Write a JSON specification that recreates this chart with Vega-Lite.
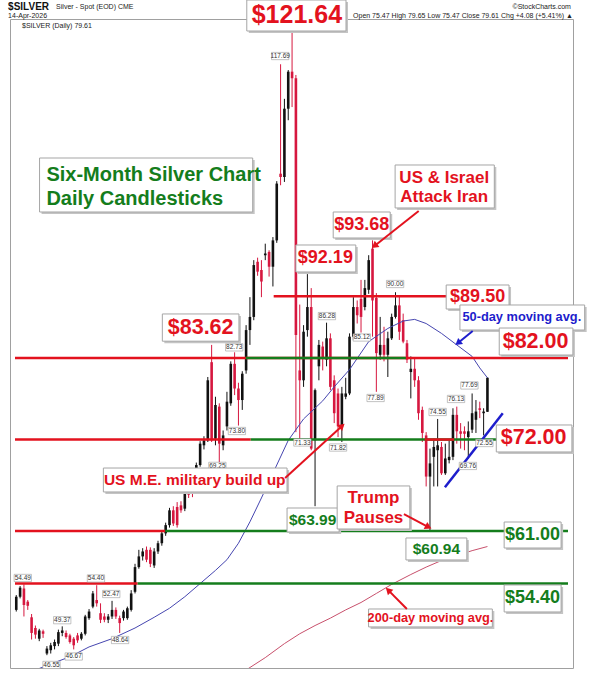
{
  "$schema": "https://vega.github.io/schema/vega-lite/v6.json",
  "width": 563,
  "height": 649,
  "autosize": {"type": "none"},
  "padding": {"left": 10, "top": 19, "right": 24, "bottom": 12},
  "background": "white",
  "config": {"view": {"stroke": "#a0a0a0", "strokeWidth": 1}, "font": "Liberation Sans"},
  "datasets": {
    "bars": [
      {"t": -3, "o": 51.4, "h": 53.2, "l": 51.2, "c": 53.0},
      {"t": -2, "o": 53.0, "h": 54.3, "l": 52.8, "c": 54.1},
      {"t": -1, "o": 54.0, "h": 54.5, "l": 50.6, "c": 52.0},
      {"t": 0, "o": 52.4, "h": 52.6, "l": 51.4, "c": 51.9},
      {"t": 1, "o": 50.5, "h": 50.9, "l": 47.8, "c": 48.6},
      {"t": 2, "o": 49.2, "h": 49.5, "l": 47.9, "c": 48.4},
      {"t": 3, "o": 47.9, "h": 49.1, "l": 47.6, "c": 48.9},
      {"t": 4, "o": 48.8, "h": 49.0, "l": 48.0, "c": 48.5},
      {"t": 5, "o": 46.1, "h": 47.0, "l": 45.9, "c": 46.7},
      {"t": 6, "o": 46.5, "h": 47.4, "l": 46.1, "c": 47.1},
      {"t": 7, "o": 47.0, "h": 47.8, "l": 46.6, "c": 47.5},
      {"t": 8, "o": 47.3, "h": 49.0, "l": 47.0, "c": 48.7},
      {"t": 9, "o": 48.6, "h": 49.4, "l": 48.2, "c": 48.9},
      {"t": 10, "o": 48.6, "h": 48.9, "l": 47.9, "c": 48.1},
      {"t": 11, "o": 48.3, "h": 48.5, "l": 47.3, "c": 47.5},
      {"t": 12, "o": 47.9, "h": 48.1, "l": 46.6, "c": 47.1},
      {"t": 13, "o": 48.3, "h": 48.6, "l": 47.4, "c": 47.7},
      {"t": 14, "o": 47.9, "h": 48.7, "l": 47.7, "c": 48.5},
      {"t": 15, "o": 48.5, "h": 50.8, "l": 48.3, "c": 50.6},
      {"t": 16, "o": 50.4, "h": 51.5, "l": 50.2, "c": 51.2},
      {"t": 17, "o": 51.8, "h": 53.7, "l": 51.6, "c": 53.4},
      {"t": 18, "o": 52.6, "h": 54.4, "l": 51.8, "c": 52.2},
      {"t": 19, "o": 51.0, "h": 52.2, "l": 49.8, "c": 50.2},
      {"t": 20, "o": 50.6, "h": 51.0, "l": 49.9, "c": 50.2},
      {"t": 21, "o": 50.2, "h": 50.9, "l": 49.8, "c": 50.6},
      {"t": 22, "o": 50.6, "h": 52.5, "l": 50.3, "c": 51.4},
      {"t": 23, "o": 51.4, "h": 51.7, "l": 50.3, "c": 50.6},
      {"t": 24, "o": 50.4, "h": 50.7, "l": 48.6, "c": 49.8},
      {"t": 25, "o": 50.4, "h": 51.4, "l": 50.1, "c": 51.2},
      {"t": 26, "o": 50.4, "h": 51.8, "l": 50.2, "c": 51.6},
      {"t": 27, "o": 51.4, "h": 53.8, "l": 51.2, "c": 53.4},
      {"t": 28, "o": 53.6, "h": 57.0, "l": 53.4, "c": 56.6},
      {"t": 29, "o": 56.6, "h": 58.7, "l": 56.4, "c": 57.9},
      {"t": 30, "o": 57.9, "h": 58.9, "l": 57.4, "c": 58.5},
      {"t": 31, "o": 58.7, "h": 59.1, "l": 57.2, "c": 57.5},
      {"t": 32, "o": 58.7, "h": 59.0, "l": 56.6, "c": 57.0},
      {"t": 33, "o": 56.8, "h": 58.9, "l": 56.5, "c": 58.5},
      {"t": 34, "o": 58.5, "h": 59.8, "l": 58.2, "c": 59.5},
      {"t": 35, "o": 59.5, "h": 61.0, "l": 59.2, "c": 60.7},
      {"t": 36, "o": 60.7, "h": 62.0, "l": 60.4, "c": 61.7},
      {"t": 37, "o": 61.7, "h": 63.8, "l": 61.4, "c": 63.5},
      {"t": 38, "o": 63.5, "h": 64.0, "l": 61.6, "c": 61.9},
      {"t": 39, "o": 63.9, "h": 64.5, "l": 61.4, "c": 61.7},
      {"t": 40, "o": 64.1, "h": 64.6, "l": 63.2, "c": 63.5},
      {"t": 41, "o": 63.7, "h": 65.9, "l": 63.4, "c": 65.6},
      {"t": 42, "o": 65.9, "h": 66.8, "l": 65.0, "c": 65.4},
      {"t": 43, "o": 66.2, "h": 67.0, "l": 65.1, "c": 65.6},
      {"t": 44, "o": 66.0, "h": 69.3, "l": 65.8, "c": 69.0},
      {"t": 45, "o": 69.0, "h": 71.9, "l": 68.8, "c": 71.6},
      {"t": 46, "o": 71.4, "h": 72.5, "l": 70.9, "c": 72.0},
      {"t": 47, "o": 72.0, "h": 79.7, "l": 71.8, "c": 79.3},
      {"t": 48, "o": 81.5, "h": 83.6, "l": 71.8, "c": 72.0},
      {"t": 49, "o": 72.2, "h": 77.3, "l": 71.4, "c": 76.3},
      {"t": 50, "o": 76.1, "h": 76.5, "l": 69.3, "c": 71.6},
      {"t": 51, "o": 71.4, "h": 73.2, "l": 70.8, "c": 72.6},
      {"t": 52, "o": 73.7, "h": 77.9, "l": 73.2, "c": 76.7},
      {"t": 53, "o": 76.5, "h": 81.6, "l": 76.2, "c": 81.3},
      {"t": 54, "o": 81.3, "h": 82.7, "l": 77.5, "c": 78.3},
      {"t": 55, "o": 78.3, "h": 79.0, "l": 73.8, "c": 76.9},
      {"t": 56, "o": 76.9, "h": 80.4, "l": 75.7, "c": 80.1},
      {"t": 57, "o": 80.5, "h": 86.0, "l": 80.1, "c": 85.4},
      {"t": 58, "o": 85.4, "h": 89.4, "l": 83.6, "c": 87.0},
      {"t": 59, "o": 87.0, "h": 93.9, "l": 86.6, "c": 93.3},
      {"t": 60, "o": 93.7, "h": 94.2, "l": 92.0, "c": 92.5},
      {"t": 61, "o": 92.7, "h": 93.9, "l": 89.4, "c": 91.3},
      {"t": 62, "o": 94.5, "h": 95.9, "l": 93.9, "c": 94.7},
      {"t": 63, "o": 94.9, "h": 95.1, "l": 91.9, "c": 93.1},
      {"t": 64, "o": 93.1, "h": 96.7, "l": 90.7, "c": 96.3},
      {"t": 65, "o": 96.3, "h": 103.5, "l": 96.0, "c": 103.2},
      {"t": 66, "o": 104.4, "h": 117.7, "l": 103.0, "c": 104.0},
      {"t": 67, "o": 104.0, "h": 113.5, "l": 103.4, "c": 112.3},
      {"t": 68, "o": 112.3, "h": 117.0, "l": 110.9, "c": 116.8},
      {"t": 69, "o": 116.8, "h": 121.6, "l": 112.5, "c": 116.0},
      {"t": 70, "o": 116.0, "h": 116.4, "l": 73.0, "c": 84.8},
      {"t": 71, "o": 80.5, "h": 88.5, "l": 71.3, "c": 79.3},
      {"t": 72, "o": 79.3, "h": 86.0, "l": 78.5, "c": 85.2},
      {"t": 73, "o": 85.4, "h": 92.2, "l": 84.6, "c": 88.2},
      {"t": 74, "o": 88.2, "h": 90.5, "l": 70.8, "c": 71.0},
      {"t": 75, "o": 72.0, "h": 78.3, "l": 64.0, "c": 78.1},
      {"t": 76, "o": 81.0, "h": 84.2, "l": 79.3, "c": 83.6},
      {"t": 77, "o": 83.4, "h": 84.0, "l": 80.5, "c": 82.0},
      {"t": 78, "o": 81.8, "h": 86.3, "l": 81.0, "c": 84.4},
      {"t": 79, "o": 84.4, "h": 85.0, "l": 78.1, "c": 78.5},
      {"t": 80, "o": 79.3, "h": 79.9, "l": 74.1, "c": 75.3},
      {"t": 81, "o": 77.7, "h": 78.3, "l": 72.4, "c": 73.7},
      {"t": 82, "o": 73.7, "h": 78.5, "l": 71.8, "c": 77.7},
      {"t": 83, "o": 77.3, "h": 79.6, "l": 77.0, "c": 77.7},
      {"t": 84, "o": 77.7, "h": 85.0, "l": 77.5, "c": 84.6},
      {"t": 85, "o": 84.6, "h": 89.4, "l": 84.2, "c": 88.2},
      {"t": 86, "o": 88.2, "h": 89.0, "l": 86.2, "c": 87.2},
      {"t": 87, "o": 89.2, "h": 91.5, "l": 85.1, "c": 87.0},
      {"t": 88, "o": 88.2, "h": 91.5, "l": 87.8, "c": 90.5},
      {"t": 89, "o": 90.3, "h": 94.5, "l": 89.8, "c": 93.9},
      {"t": 90, "o": 95.3, "h": 96.3, "l": 84.6, "c": 89.0},
      {"t": 91, "o": 89.3, "h": 89.9, "l": 77.9, "c": 82.6},
      {"t": 92, "o": 82.4, "h": 87.0, "l": 81.8, "c": 83.6},
      {"t": 93, "o": 83.6, "h": 85.8, "l": 81.6, "c": 82.4},
      {"t": 94, "o": 82.4, "h": 85.2, "l": 79.7, "c": 84.4},
      {"t": 95, "o": 84.4, "h": 87.4, "l": 84.2, "c": 87.0},
      {"t": 96, "o": 87.0, "h": 90.0, "l": 86.8, "c": 88.4},
      {"t": 97, "o": 88.4, "h": 89.6, "l": 84.2, "c": 85.2},
      {"t": 98, "o": 86.6, "h": 87.4, "l": 83.8, "c": 84.0},
      {"t": 99, "o": 83.8, "h": 84.2, "l": 81.4, "c": 81.8},
      {"t": 100, "o": 80.3, "h": 82.2, "l": 77.1, "c": 80.7},
      {"t": 101, "o": 80.7, "h": 81.9, "l": 78.5, "c": 79.3},
      {"t": 102, "o": 79.3, "h": 79.8, "l": 74.5, "c": 75.3},
      {"t": 103, "o": 75.7, "h": 76.1, "l": 71.8, "c": 72.9},
      {"t": 104, "o": 72.6, "h": 73.0, "l": 66.4, "c": 67.6},
      {"t": 105, "o": 67.6, "h": 71.0, "l": 60.9, "c": 69.2},
      {"t": 106, "o": 70.0, "h": 72.2, "l": 66.4, "c": 71.2},
      {"t": 107, "o": 70.8, "h": 74.6, "l": 66.4, "c": 71.4},
      {"t": 108, "o": 71.2, "h": 71.8, "l": 67.8, "c": 68.0},
      {"t": 109, "o": 68.0, "h": 71.6, "l": 67.8, "c": 69.8},
      {"t": 110, "o": 69.6, "h": 72.0, "l": 69.2, "c": 70.0},
      {"t": 111, "o": 70.0, "h": 75.9, "l": 69.6, "c": 75.1},
      {"t": 112, "o": 75.1, "h": 76.1, "l": 71.6, "c": 73.1},
      {"t": 113, "o": 73.1, "h": 74.1, "l": 71.0, "c": 72.8},
      {"t": 114, "o": 73.1, "h": 73.7, "l": 70.8, "c": 72.8},
      {"t": 115, "o": 72.4, "h": 74.3, "l": 69.8, "c": 73.1},
      {"t": 116, "o": 73.3, "h": 77.7, "l": 72.9, "c": 75.3},
      {"t": 117, "o": 74.5, "h": 76.9, "l": 72.9, "c": 75.5},
      {"t": 118, "o": 75.9, "h": 76.7, "l": 74.7, "c": 75.7},
      {"t": 119, "o": 75.3, "h": 75.9, "l": 72.6, "c": 75.5},
      {"t": 120, "o": 75.47, "h": 79.65, "l": 75.47, "c": 79.61}
    ],
    "ma50": [
      {"t": 2, "p": 44.1}, {"t": 7, "p": 45.0}, {"t": 11, "p": 45.7}, {"t": 16, "p": 46.9},
      {"t": 22, "p": 47.9}, {"t": 28, "p": 49.2}, {"t": 33, "p": 50.5}, {"t": 37, "p": 51.6},
      {"t": 41, "p": 53.0}, {"t": 45, "p": 54.6}, {"t": 49, "p": 56.2}, {"t": 52, "p": 57.5},
      {"t": 55, "p": 59.5}, {"t": 58, "p": 62.1}, {"t": 61, "p": 65.0}, {"t": 64, "p": 68.0},
      {"t": 68, "p": 72.0}, {"t": 72, "p": 74.6}, {"t": 77, "p": 76.8}, {"t": 80, "p": 78.5},
      {"t": 84, "p": 80.6}, {"t": 89, "p": 84.0}, {"t": 94, "p": 85.6}, {"t": 98, "p": 86.5},
      {"t": 101, "p": 86.7}, {"t": 104, "p": 86.2}, {"t": 108, "p": 85.0}, {"t": 112, "p": 83.6},
      {"t": 116, "p": 82.2}, {"t": 118, "p": 80.8}, {"t": 120, "p": 79.6}
    ],
    "ma200": [
      {"t": 57, "p": 44.1}, {"t": 62, "p": 45.6}, {"t": 67, "p": 47.3}, {"t": 71, "p": 48.5},
      {"t": 75, "p": 49.5}, {"t": 79, "p": 50.4}, {"t": 83, "p": 51.4}, {"t": 87, "p": 52.3},
      {"t": 91, "p": 53.4}, {"t": 95, "p": 54.5}, {"t": 100, "p": 55.7}, {"t": 104, "p": 56.6},
      {"t": 108, "p": 57.4}, {"t": 112, "p": 58.0}, {"t": 116, "p": 58.6}, {"t": 120, "p": 59.1}
    ],
    "levels": [
      {"t": -3.33, "t2": 141.03, "p": 82, "tone": "red"},
      {"t": 56.9, "t2": 98.7, "p": 82, "tone": "green"},
      {"t": 64.2, "t2": 115, "p": 89.5, "tone": "red"},
      {"t": -3.33, "t2": 58.2, "p": 72.1, "tone": "red"},
      {"t": 58.2, "t2": 141.03, "p": 72.1, "tone": "green"},
      {"t": 103.6, "t2": 111.3, "p": 72.1, "tone": "red"},
      {"t": -3.33, "t2": 35.9, "p": 61, "tone": "red"},
      {"t": 35.9, "t2": 141.03, "p": 61, "tone": "green"},
      {"t": -3.33, "t2": 28.7, "p": 54.6, "tone": "red"},
      {"t": 28.7, "t2": 141.03, "p": 54.6, "tone": "green"}
    ],
    "trend": [{"t": 108.9, "p": 66.3, "t2": 124.0, "p2": 75.3}],
    "tags": [
      {"t": 65.9, "p": 118.7, "label": "117.69"},
      {"t": 53.9, "p": 83.3, "label": "82.73"},
      {"t": 54.6, "p": 73.14, "label": "73.80"},
      {"t": 49.5, "p": 68.9, "label": "69.25"},
      {"t": 78.1, "p": 87.1, "label": "86.28"},
      {"t": 71.7, "p": 71.74, "label": "71.33"},
      {"t": 81.0, "p": 71.13, "label": "71.82"},
      {"t": 87.2, "p": 84.5, "label": "85.12"},
      {"t": 95.9, "p": 91.0, "label": "90.00"},
      {"t": 90.8, "p": 77.15, "label": "77.89"},
      {"t": 107.0, "p": 75.45, "label": "74.55"},
      {"t": 111.8, "p": 77.03, "label": "76.13"},
      {"t": 115.3, "p": 78.67, "label": "77.69"},
      {"t": 119.2, "p": 71.68, "label": "72.55"},
      {"t": 114.9, "p": 68.89, "label": "69.76"},
      {"t": -1.3, "p": 55.28, "label": "54.49"},
      {"t": 17.8, "p": 55.22, "label": "54.40"},
      {"t": 21.8, "p": 53.33, "label": "52.47"},
      {"t": 9.0, "p": 50.15, "label": "49.37"},
      {"t": 12.0, "p": 45.74, "label": "46.67"},
      {"t": 6.2, "p": 44.71, "label": "46.55"},
      {"t": 24.1, "p": 47.74, "label": "48.64"}
    ],
    "boxes": [
      {"t": 57.18, "t2": 83.08, "p": 125.51, "p2": 121.74},
      {"t": 3.08, "t2": 58.72, "p": 106.31, "p2": 99.75},
      {"t": 95.9, "t2": 121.79, "p": 105.46, "p2": 100.24},
      {"t": 79.74, "t2": 94.62, "p": 99.75, "p2": 96.59},
      {"t": 70.0, "t2": 85.64, "p": 95.74, "p2": 92.46},
      {"t": 109.23, "t2": 125.64, "p": 90.88, "p2": 87.96},
      {"t": 112.82, "t2": 145.38, "p": 88.45, "p2": 85.41},
      {"t": 35.13, "t2": 55.13, "p": 87.36, "p2": 84.05},
      {"t": 123.08, "t2": 142.31, "p": 85.65, "p2": 82.37},
      {"t": 122.31, "t2": 142.05, "p": 73.87, "p2": 70.59},
      {"t": 19.74, "t2": 67.69, "p": 68.64, "p2": 65.73},
      {"t": 67.69, "t2": 81.28, "p": 63.78, "p2": 60.87},
      {"t": 80.77, "t2": 99.74, "p": 66.46, "p2": 61.23},
      {"t": 98.72, "t2": 114.62, "p": 60.14, "p2": 57.47},
      {"t": 124.36, "t2": 139.23, "p": 62.08, "p2": 58.92},
      {"t": 124.36, "t2": 139.23, "p": 54.43, "p2": 51.15},
      {"t": 88.97, "t2": 121.28, "p": 51.51, "p2": 49.33}
    ],
    "notes": [
      {"t": 70.26, "p": 123.69, "label": "$121.64", "tone": "red", "kind": "huge"},
      {"t": 87.18, "p": 98.17, "label": "$93.68", "tone": "red", "kind": "mid"},
      {"t": 77.69, "p": 94.1, "label": "$92.19", "tone": "red", "kind": "mid"},
      {"t": 117.44, "p": 89.42, "label": "$89.50", "tone": "red", "kind": "mid"},
      {"t": 128.97, "p": 86.93, "label": "50-day moving avg.", "tone": "blue", "kind": "ma"},
      {"t": 45.13, "p": 85.7, "label": "$83.62", "tone": "red", "kind": "price"},
      {"t": 132.56, "p": 84.01, "label": "$82.00", "tone": "red", "kind": "price"},
      {"t": 132.05, "p": 72.23, "label": "$72.00", "tone": "red", "kind": "price"},
      {"t": 108.72, "p": 103.88, "label": "US & Israel", "tone": "red", "kind": "event"},
      {"t": 108.72, "p": 101.57, "label": "Attack Iran", "tone": "red", "kind": "event"},
      {"t": 43.59, "p": 67.19, "label": "US M.E. military build up", "tone": "red", "kind": "small"},
      {"t": 74.36, "p": 62.33, "label": "$63.99", "tone": "green", "kind": "small"},
      {"t": 90.26, "p": 65.0, "label": "Trump", "tone": "red", "kind": "event"},
      {"t": 90.26, "p": 62.57, "label": "Pauses", "tone": "red", "kind": "event"},
      {"t": 106.67, "p": 58.8, "label": "$60.94", "tone": "green", "kind": "small"},
      {"t": 131.79, "p": 60.5, "label": "$61.00", "tone": "green", "kind": "mid"},
      {"t": 131.79, "p": 52.79, "label": "$54.40", "tone": "green", "kind": "mid"},
      {"t": 105.13, "p": 50.42, "label": "200-day moving avg.", "tone": "red", "kind": "ma"}
    ],
    "heading": [
      {"t": 4.87, "p": 104.25, "label": "Six-Month Silver Chart"},
      {"t": 4.87, "p": 101.33, "label": "Daily Candlesticks"}
    ],
    "arrows": [
      {"t": 102.05, "p": 99.87, "t2": 90.5, "p2": 95.62, "tone": "red"},
      {"t": 67.18, "p": 67.43, "t2": 82.05, "p2": 73.75, "tone": "red"},
      {"t": 98.2, "p": 63.05, "t2": 104.6, "p2": 61.47, "tone": "red"},
      {"t": 116.15, "p": 85.29, "t2": 112.31, "p2": 83.83, "tone": "blue"},
      {"t": 98.97, "p": 51.51, "t2": 94.1, "p2": 53.8, "tone": "red"}
    ],
    "headL": [
      {"t": 7.4, "p": 124.62, "label": "Silver - Spot (EOD) CME"},
      {"t": -5.13, "p": 123.56, "label": "14-Apr-2026"},
      {"t": -1.5, "p": 122.35, "label": "$SILVER (Daily) 79.61"}
    ],
    "headSym": [{"t": -5.13, "p": 124.66, "label": "$SILVER"}],
    "headR": [
      {"t": 141.8, "p": 124.66, "label": "©StockCharts.com"},
      {"t": 142.3, "p": 123.56, "label": "Open 75.47  High 79.65  Low 75.47  Close 79.61  Chg +4.08 (+5.41%) ▲"}
    ]
  },
  "layer": [
    {
      "data": {"name": "bars"},
      "mark": {"type": "rule", "strokeWidth": 1},
      "encoding": {
        "x": {
          "field": "t", "type": "quantitative", "title": null,
          "scale": {"domain": [-3.33, 141.03], "nice": false, "zero": false},
          "axis": {
            "values": [0, 5, 10, 15, 20, 25, 29, 34, 39, 44, 48, 51, 57, 62, 66, 71, 76, 81, 85, 90, 95, 100, 105, 110, 112, 114, 119, 124, 129, 133, 139],
            "labelExpr": "['20','27','Nov','10','17','24','Dec','8','15','22','29','2026','12','20','26','Feb','9','17','23','Mar','9','16','23','30','Apr','6','13','20','27','May','11'][indexof([0,5,10,15,20,25,29,34,39,44,48,51,57,62,66,71,76,81,85,90,95,100,105,110,112,114,119,124,129,133,139], datum.value)]",
            "labelFontWeight": {"condition": {"test": "indexof([10,29,51,71,90,112,133], datum.value) >= 0", "value": "bold"}, "value": "normal"},
            "labelFontSize": 7, "labelColor": "#222", "labelPadding": 2,
            "ticks": false, "domain": false, "grid": true, "gridColor": "#e3e3e3",
            "labelFlush": false, "labelOverlap": false, "labelBound": false
          }
        },
        "y": {
          "field": "l", "type": "quantitative", "title": null,
          "scale": {"domain": [44.34, 123.2], "nice": false, "zero": false},
          "axis": {
            "orient": "right",
            "values": [46, 48, 50, 52, 54, 56, 58, 60, 62, 64, 66, 68, 70, 72, 74, 76, 78, 80, 82, 84, 86, 88, 90, 92, 94, 96, 98, 100, 102, 104, 106, 108, 110, 112, 114, 116, 118, 120, 122],
            "labelFontSize": 7, "labelColor": "#222", "labelPadding": 4,
            "ticks": false, "domain": false, "grid": true, "gridColor": "#e3e3e3",
            "labelFlush": false, "labelOverlap": false, "labelBound": false
          }
        },
        "y2": {"field": "h"},
        "color": {"condition": {"test": "datum.c >= datum.o", "value": "#111111"}, "value": "#d6173f"}
      }
    },
    {
      "data": {"name": "bars"},
      "mark": {"type": "bar", "width": 2.6},
      "encoding": {
        "x": {"field": "t", "type": "quantitative", "scale": {"domain": [-3.33, 141.03], "nice": false, "zero": false}, "axis": null},
        "y": {"field": "o", "type": "quantitative", "scale": {"domain": [44.34, 123.2], "nice": false, "zero": false}, "axis": null},
        "y2": {"field": "c"},
        "color": {"condition": {"test": "datum.c >= datum.o", "value": "#111111"}, "value": "#d6173f"}
      }
    },
    {
      "data": {"name": "ma200"},
      "mark": {"type": "line", "clip": true, "strokeWidth": 1, "color": "#c8506c"},
      "encoding": {
        "x": {"field": "t", "type": "quantitative", "scale": {"domain": [-3.33, 141.03], "nice": false, "zero": false}, "axis": null},
        "y": {"field": "p", "type": "quantitative", "scale": {"domain": [44.34, 123.2], "nice": false, "zero": false}, "axis": null}
      }
    },
    {
      "data": {"name": "ma50"},
      "mark": {"type": "line", "clip": true, "strokeWidth": 1, "color": "#4646b0"},
      "encoding": {
        "x": {"field": "t", "type": "quantitative", "scale": {"domain": [-3.33, 141.03], "nice": false, "zero": false}, "axis": null},
        "y": {"field": "p", "type": "quantitative", "scale": {"domain": [44.34, 123.2], "nice": false, "zero": false}, "axis": null}
      }
    },
    {
      "data": {"name": "levels"},
      "mark": {"type": "rule", "strokeWidth": 2.5},
      "encoding": {
        "x": {"field": "t", "type": "quantitative", "scale": {"domain": [-3.33, 141.03], "nice": false, "zero": false}, "axis": null},
        "x2": {"field": "t2"},
        "y": {"field": "p", "type": "quantitative", "scale": {"domain": [44.34, 123.2], "nice": false, "zero": false}, "axis": null},
        "color": {"field": "tone", "type": "nominal", "scale": {"domain": ["red", "green", "blue"], "range": ["#e3121e", "#147d1c", "#1d1dcc"]}, "legend": null}
      }
    },
    {
      "data": {"name": "trend"},
      "mark": {"type": "rule", "strokeWidth": 2.5, "color": "#1d1dcc"},
      "encoding": {
        "x": {"field": "t", "type": "quantitative", "scale": {"domain": [-3.33, 141.03], "nice": false, "zero": false}, "axis": null},
        "x2": {"field": "t2"},
        "y": {"field": "p", "type": "quantitative", "scale": {"domain": [44.34, 123.2], "nice": false, "zero": false}, "axis": null},
        "y2": {"field": "p2"}
      }
    },
    {
      "data": {"name": "tags"},
      "mark": {"type": "point", "shape": "M-1,-0.42H1V0.42H-1Z", "size": 300, "fill": "white", "stroke": "#9a9a9a", "strokeWidth": 0.6, "opacity": 1, "fillOpacity": 1},
      "encoding": {
        "x": {"field": "t", "type": "quantitative", "scale": {"domain": [-3.33, 141.03], "nice": false, "zero": false}, "axis": null},
        "y": {"field": "p", "type": "quantitative", "scale": {"domain": [44.34, 123.2], "nice": false, "zero": false}, "axis": null}
      }
    },
    {
      "data": {"name": "tags"},
      "mark": {"type": "text", "fontSize": 6.5, "color": "#333333", "baseline": "middle"},
      "encoding": {
        "x": {"field": "t", "type": "quantitative", "scale": {"domain": [-3.33, 141.03], "nice": false, "zero": false}, "axis": null},
        "y": {"field": "p", "type": "quantitative", "scale": {"domain": [44.34, 123.2], "nice": false, "zero": false}, "axis": null},
        "text": {"field": "label"}
      }
    },
    {
      "data": {"name": "boxes"},
      "mark": {"type": "rect", "fill": "#c4c4c4", "xOffset": 2, "x2Offset": 2, "yOffset": 2, "y2Offset": 2},
      "encoding": {
        "x": {"field": "t", "type": "quantitative", "scale": {"domain": [-3.33, 141.03], "nice": false, "zero": false}, "axis": null},
        "x2": {"field": "t2"},
        "y": {"field": "p", "type": "quantitative", "scale": {"domain": [44.34, 123.2], "nice": false, "zero": false}, "axis": null},
        "y2": {"field": "p2"}
      }
    },
    {
      "data": {"name": "boxes"},
      "mark": {"type": "rect", "fill": "white", "stroke": "#a5a5a5", "strokeWidth": 1},
      "encoding": {
        "x": {"field": "t", "type": "quantitative", "scale": {"domain": [-3.33, 141.03], "nice": false, "zero": false}, "axis": null},
        "x2": {"field": "t2"},
        "y": {"field": "p", "type": "quantitative", "scale": {"domain": [44.34, 123.2], "nice": false, "zero": false}, "axis": null},
        "y2": {"field": "p2"}
      }
    },
    {
      "data": {"name": "notes"},
      "mark": {"type": "text", "fontWeight": "bold", "baseline": "middle", "align": "center"},
      "encoding": {
        "x": {"field": "t", "type": "quantitative", "scale": {"domain": [-3.33, 141.03], "nice": false, "zero": false}, "axis": null},
        "y": {"field": "p", "type": "quantitative", "scale": {"domain": [44.34, 123.2], "nice": false, "zero": false}, "axis": null},
        "text": {"field": "label"},
        "color": {"field": "tone", "type": "nominal", "scale": {"domain": ["red", "green", "blue"], "range": ["#e3121e", "#147d1c", "#1d1dcc"]}, "legend": null},
        "size": {"field": "kind", "type": "nominal", "scale": {"type": "ordinal", "domain": ["huge", "price", "mid", "event", "small", "ma"], "range": [25, 21.5, 18, 17, 15.5, 12.8]}, "legend": null}
      }
    },
    {
      "data": {"name": "heading"},
      "mark": {"type": "text", "fontWeight": "bold", "fontSize": 20, "color": "#147d1c", "baseline": "middle", "align": "left"},
      "encoding": {
        "x": {"field": "t", "type": "quantitative", "scale": {"domain": [-3.33, 141.03], "nice": false, "zero": false}, "axis": null},
        "y": {"field": "p", "type": "quantitative", "scale": {"domain": [44.34, 123.2], "nice": false, "zero": false}, "axis": null},
        "text": {"field": "label"}
      }
    },
    {
      "data": {"name": "arrows"},
      "mark": {"type": "rule", "strokeWidth": 2},
      "encoding": {
        "x": {"field": "t", "type": "quantitative", "scale": {"domain": [-3.33, 141.03], "nice": false, "zero": false}, "axis": null},
        "x2": {"field": "t2"},
        "y": {"field": "p", "type": "quantitative", "scale": {"domain": [44.34, 123.2], "nice": false, "zero": false}, "axis": null},
        "y2": {"field": "p2"},
        "color": {"field": "tone", "type": "nominal", "scale": {"domain": ["red", "green", "blue"], "range": ["#e3121e", "#147d1c", "#1d1dcc"]}, "legend": null}
      }
    },
    {
      "data": {"name": "arrows"},
      "transform": [{"calculate": "atan2((datum.t2 - datum.t) * 3.9, (datum.p2 - datum.p) * 8.23) * 180 / PI", "as": "ang"}],
      "mark": {"type": "point", "shape": "triangle-up", "filled": true, "size": 60, "opacity": 1},
      "encoding": {
        "x": {"field": "t2", "type": "quantitative", "scale": {"domain": [-3.33, 141.03], "nice": false, "zero": false}, "axis": null},
        "y": {"field": "p2", "type": "quantitative", "scale": {"domain": [44.34, 123.2], "nice": false, "zero": false}, "axis": null},
        "angle": {"field": "ang", "type": "quantitative", "scale": null},
        "color": {"field": "tone", "type": "nominal", "scale": {"domain": ["red", "green", "blue"], "range": ["#e3121e", "#147d1c", "#1d1dcc"]}, "legend": null}
      }
    },
    {
      "data": {"name": "headL"},
      "mark": {"type": "text", "fontSize": 7, "color": "#222222", "baseline": "middle", "align": "left"},
      "encoding": {
        "x": {"field": "t", "type": "quantitative", "scale": {"domain": [-3.33, 141.03], "nice": false, "zero": false}, "axis": null},
        "y": {"field": "p", "type": "quantitative", "scale": {"domain": [44.34, 123.2], "nice": false, "zero": false}, "axis": null},
        "text": {"field": "label"}
      }
    },
    {
      "data": {"name": "headSym"},
      "mark": {"type": "text", "fontSize": 10, "fontWeight": "bold", "color": "#111111", "baseline": "middle", "align": "left"},
      "encoding": {
        "x": {"field": "t", "type": "quantitative", "scale": {"domain": [-3.33, 141.03], "nice": false, "zero": false}, "axis": null},
        "y": {"field": "p", "type": "quantitative", "scale": {"domain": [44.34, 123.2], "nice": false, "zero": false}, "axis": null},
        "text": {"field": "label"}
      }
    },
    {
      "data": {"name": "headR"},
      "mark": {"type": "text", "fontSize": 7, "color": "#222222", "baseline": "middle", "align": "right"},
      "encoding": {
        "x": {"field": "t", "type": "quantitative", "scale": {"domain": [-3.33, 141.03], "nice": false, "zero": false}, "axis": null},
        "y": {"field": "p", "type": "quantitative", "scale": {"domain": [44.34, 123.2], "nice": false, "zero": false}, "axis": null},
        "text": {"field": "label"}
      }
    }
  ]
}
